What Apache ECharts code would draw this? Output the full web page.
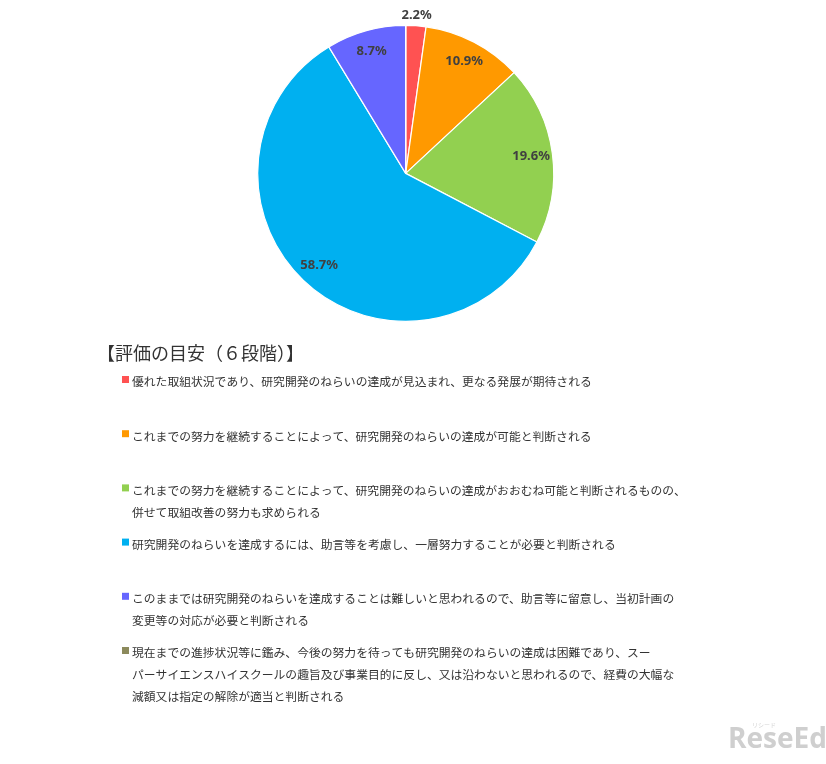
<!DOCTYPE html>
<html>
<head>
<meta charset="utf-8">
<script src="https://cdn.jsdelivr.net/npm/echarts@6/dist/echarts.min.js"></script>
<style>
html,body{margin:0;padding:0;background:#fff;}
#chart{width:826px;height:764px;}
</style>
</head>
<body>
<div id="chart"></div>
<script>
// ---- data ----
var categories = [
  '優れた取組状況であり、研究開発のねらいの達成が見込まれ、更なる発展が期待される',
  'これまでの努力を継続することによって、研究開発のねらいの達成が可能と判断される',
  'これまでの努力を継続することによって、研究開発のねらいの達成がおおむね可能と判断されるものの、併せて取組改善の努力も求められる',
  '研究開発のねらいを達成するには、助言等を考慮し、一層努力することが必要と判断される',
  'このままでは研究開発のねらいを達成することは難しいと思われるので、助言等に留意し、当初計画の変更等の対応が必要と判断される',
  '現在までの進捗状況等に鑑み、今後の努力を待っても研究開発のねらいの達成は困難であり、スーパーサイエンスハイスクールの趣旨及び事業目的に反し、又は沿わないと思われるので、経費の大幅な減額又は指定の解除が適当と判断される'
];
var legendLines = [
  ['優れた取組状況であり、研究開発のねらいの達成が見込まれ、更なる発展が期待される'],
  ['これまでの努力を継続することによって、研究開発のねらいの達成が可能と判断される'],
  ['これまでの努力を継続することによって、研究開発のねらいの達成がおおむね可能と判断されるものの、', '併せて取組改善の努力も求められる'],
  ['研究開発のねらいを達成するには、助言等を考慮し、一層努力することが必要と判断される'],
  ['このままでは研究開発のねらいを達成することは難しいと思われるので、助言等に留意し、当初計画の', '変更等の対応が必要と判断される'],
  ['現在までの進捗状況等に鑑み、今後の努力を待っても研究開発のねらいの達成は困難であり、スー', 'パーサイエンスハイスクールの趣旨及び事業目的に反し、又は沿わないと思われるので、経費の大幅な', '減額又は指定の解除が適当と判断される']
];
var values = [2.2, 10.9, 19.6, 58.7, 8.7, 0];
var colors = ['#FF5252', '#FF9900', '#92D050', '#00B0F0', '#6666FF', '#8C8A5C'];
var titleText = '【評価の目安（６段階）】';

// ---- layout ----
var center = [405.7, 173.4];
var R = 148;
var innerLabelIdx = [1, 2, 3, 4];
var outerLabelIdx = [0];

function pieData(transparent) {
  return values.map(function (v, i) {
    return {
      name: categories[i],
      value: v,
      itemStyle: transparent ? { color: 'rgba(0,0,0,0)', borderWidth: 0 } : { color: colors[i] }
    };
  });
}
var labelStyle = {
  color: '#404040', fontSize: 13, fontWeight: 'bold', fontFamily: 'Noto Sans'
};
function labelPie(radius, idxList) {
  return {
    type: 'pie', radius: radius, center: center, startAngle: 90, clockwise: true,
    silent: true, animation: false, z: 3,
    data: pieData(true),
    labelLine: { show: false },
    label: Object.assign({
      show: true, position: 'inside',
      formatter: function (p) {
        return idxList.indexOf(p.dataIndex) >= 0 && p.value > 0 ? p.value.toFixed(1) + '%' : '';
      }
    }, labelStyle)
  };
}

var graphics = [];
var itemTop0 = 371, itemStep = 54.2, lineH = 22;
legendLines.forEach(function (lines, i) {
  var top = itemTop0 + i * itemStep;
  graphics.push({
    type: 'rect', left: 122, top: top + 5, silent: true,
    shape: { width: 7, height: 7 }, style: { fill: colors[i] }
  });
  graphics.push({
    type: 'text', left: 132, top: top, silent: true,
    style: {
      text: lines.join('\n'), fill: '#333333', fontSize: 11.8,
      fontFamily: 'Noto Sans CJK JP', lineHeight: lineH
    }
  });
});
graphics.push({
  type: 'text', left: 728, top: 726, silent: true,
  style: { text: 'ReseEd', fill: '#cfcfcf', fontSize: 28, fontWeight: 'bold', fontFamily: 'Open Sans' }
});
graphics.push({
  type: 'text', left: 752, top: 722, silent: true,
  style: { text: 'リシード', fill: '#d5d5d5', fontSize: 6, fontFamily: 'Noto Sans CJK JP' }
});

var chart = echarts.init(document.getElementById('chart'), null, { renderer: 'canvas' });
chart.setOption({
  backgroundColor: '#ffffff',
  animation: false,
  title: {
    text: titleText, left: 92, top: 339,
    textStyle: { fontSize: 18, fontWeight: 'normal', color: '#333333', fontFamily: 'Noto Sans CJK JP' }
  },
  series: [
    {
      type: 'pie', radius: [0, R], center: center, startAngle: 90, clockwise: true,
      silent: true, animation: false, z: 2,
      data: pieData(false),
      itemStyle: { borderColor: '#ffffff', borderWidth: 1.2 },
      label: { show: false }, labelLine: { show: false }
    },
    labelPie([112, 135], innerLabelIdx),
    labelPie([146, 164], outerLabelIdx)
  ],
  graphic: graphics
});
</script>
</body>
</html>
